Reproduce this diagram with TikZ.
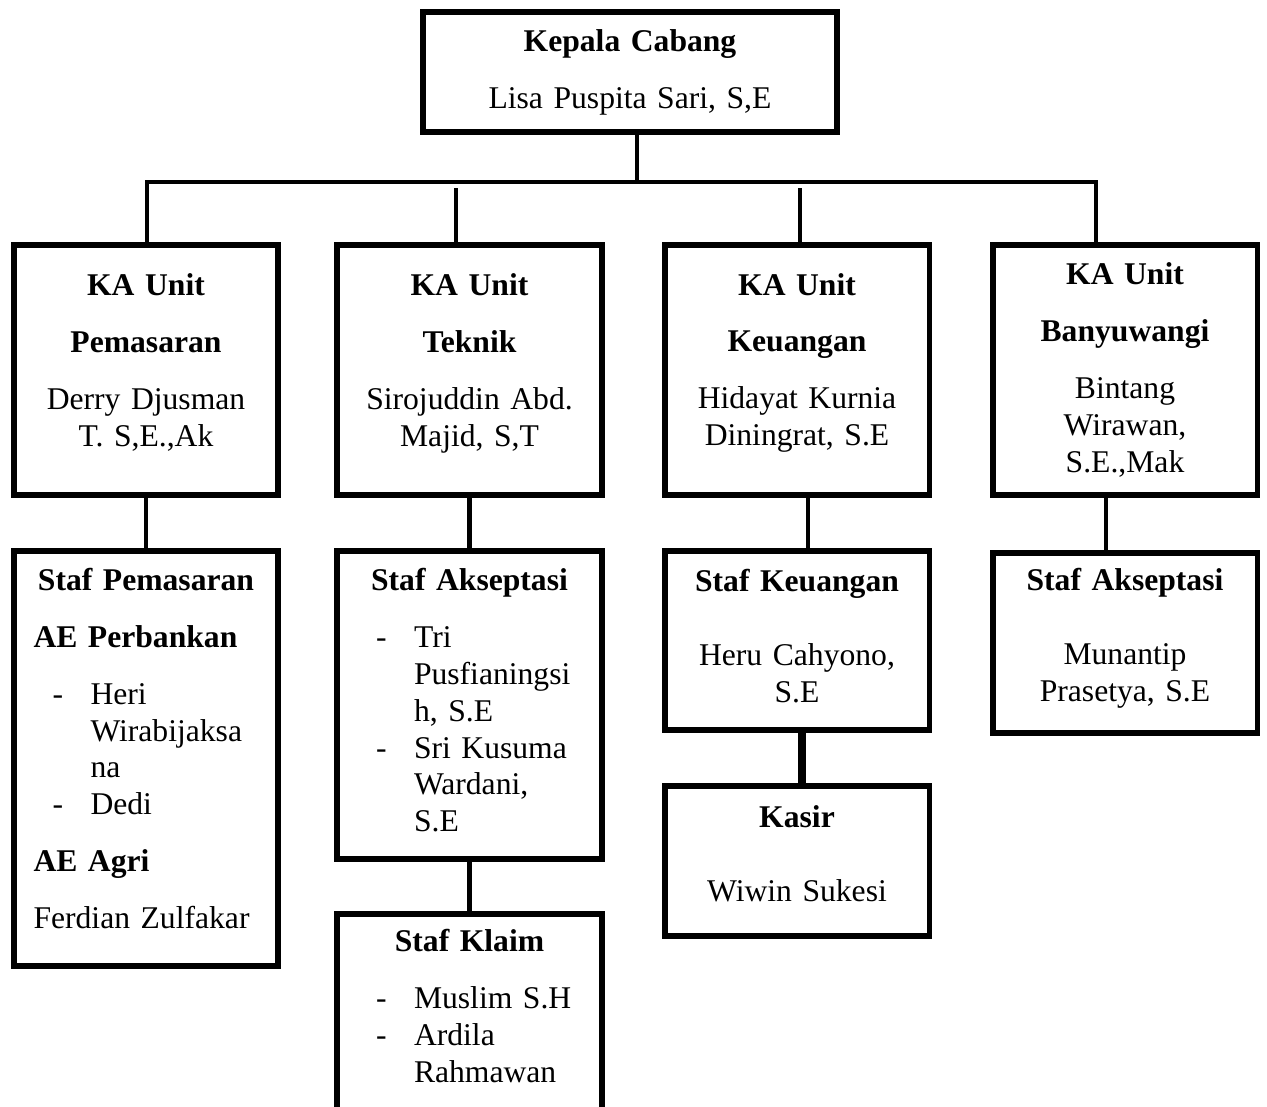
\documentclass[tikz,border=0pt]{standalone}
\usepackage{fontspec}
\setmainfont{Liberation Serif}
\usepackage{tikz}
\usetikzlibrary{calc}
\newcommand{\hd}[1]{\makebox[4.5cm]{\textbf{#1}}}
\newcommand{\itm}[1]{\hspace*{0.38cm}\makebox[0.76cm][l]{-}#1}
\newcommand{\cnt}[1]{\hspace*{1.14cm}#1}
\newcommand{\pad}[1]{\rule[-#1]{0pt}{0pt}}

\begin{document}
\begin{tikzpicture}[x=0.02cm, y=-0.02cm,
    box/.style={draw, line width=3.4pt, fill=white, inner sep=0pt,
      minimum width=5.3cm, text width=4.5cm, align=center,
      font=\fontsize{18}{21}\selectfont},
    link/.style={line width=2.3pt}]
    \useasboundingbox (0,0) rectangle (1267,1106);
    \clip (0,0) rectangle (1267,1106);
    % head
    \node[box, minimum width=8.28cm, minimum height=2.4cm, text width=7cm] (11) at (630,72)
      {\textbf{Kepala Cabang}\\[0.4cm] Lisa Puspita Sari, S,E};
    % units
    \node[box, minimum height=5cm] (21) at (146,370)
      {\textbf{KA Unit}\\[0.4cm] \textbf{Pemasaran}\\[0.4cm] Derry Djusman\\ T. S,E.,Ak\pad{11pt}};
    \node[box, minimum height=5cm] (22) at (469.5,370)
      {\textbf{KA Unit}\\[0.4cm] \textbf{Teknik}\\[0.4cm] Sirojuddin Abd.\\ Majid, S,T\pad{11pt}};
    \node[box, minimum height=5cm] (23) at (797,370)
      {\textbf{KA Unit}\\[0.4cm] \textbf{Keuangan}\\[0.4cm] Hidayat Kurnia\\ Diningrat, S.E\pad{12pt}};
    \node[box, minimum height=5cm] (24) at (1125,370)
      {\textbf{KA Unit}\\[0.4cm] \textbf{Banyuwangi}\\[0.4cm] Bintang\\ Wirawan,\\ S.E.,Mak};
    % staff
    \node[box, align=left, minimum height=8.3cm] (31) at (146,758.5)
      {\hd{Staf Pemasaran}\\[0.4cm] \textbf{AE Perbankan}\\[0.4cm] \itm{Heri}\\ \cnt{Wirabijaksa}\\ \cnt{na}\\ \itm{Dedi}\\[0.4cm] \textbf{AE Agri}\\[0.4cm] Ferdian Zulfakar\pad{11.5pt}};
    \node[box, align=left, minimum height=6.16cm] (32) at (469.5,705)
      {\hd{Staf Akseptasi}\\[0.4cm] \itm{Tri}\\ \cnt{Pusfianingsi}\\ \cnt{h, S.E}\\ \itm{Sri Kusuma}\\ \cnt{Wardani,}\\ \cnt{S.E}\pad{5.7pt}};
    \node[box, minimum height=3.58cm] (33) at (797,640.5)
      {\textbf{Staf Keuangan}\\[0.74cm] Heru Cahyono,\\ S.E\pad{5.7pt}};
    \node[box, minimum height=3.6cm] (34) at (1125,643)
      {\textbf{Staf Akseptasi}\\[0.74cm] Munantip\\ Prasetya, S.E\pad{9.7pt}};
    \node[box, align=left, minimum height=3.96cm] (42) at (469.5,1013)
      {\hd{Staf Klaim}\\[0.4cm] \itm{Muslim S.H}\\ \itm{Ardila}\\ \cnt{Rahmawan}\pad{8pt}};
    \node[box, minimum height=3cm] (43) at (797,861)
      {\textbf{Kasir}\\[0.74cm] Wiwin Sukesi\pad{9pt}};
    % bar under the head
    \coordinate (bus) at (637,182);
    \coordinate (l) at (147,182);
    \coordinate (r) at (1096,182);
    \draw[link] (11.south -| bus) -- (bus);
    \draw[link] (l |- 21.north) -- (l) -- (r) -- (r |- 24.north);
    \coordinate (d2) at (456,188);
    \coordinate (d3) at (800,188);
    \draw[link] (d2) -- (d2 |- 22.north);
    \draw[link] (d3) -- (d3 |- 23.north);
    % units to staff
    \coordinate (e3) at (808,0);
    \coordinate (e4) at (1106,0);
    \coordinate (f3) at (802,0);
    \draw[link] (21.south) -- (31.north);
    \draw[link] (22.south) -- (32.north);
    \draw[link] (32.south) -- (42.north);
    \draw[link] (23.south -| e3) -- (33.north -| e3);
    \draw[link] (24.south -| e4) -- (34.north -| e4);
    \draw[link, line width=4pt] (33.south -| f3) -- (43.north -| f3);
\end{tikzpicture}
\end{document}
